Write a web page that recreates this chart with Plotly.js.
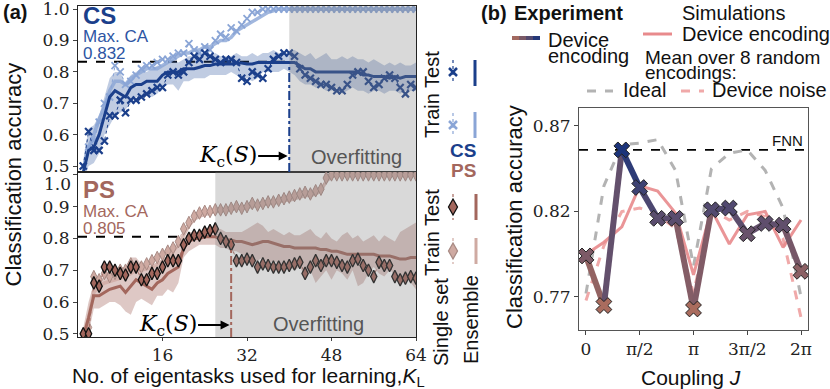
<!DOCTYPE html>
<html>
<head>
<meta charset="utf-8">
<script src="https://cdn.plot.ly/plotly-3.0.1.min.js"></script>
<style>html,body{margin:0;padding:0;background:#fff}</style>
</head>
<body>
<div id="chart" style="width:830px;height:389px"></div>
<script>
// ---- panel (a): number of eigentasks K_L
const kL = Array.from({length: 64}, (_, i) => i + 1)

const csTestSingle = [
  0.50,0.61,0.55,0.55,0.58,0.66,0.66,0.71,0.67,0.71,
  0.71,0.72,0.73,0.74,0.75,0.75,0.79,0.80,0.79,0.80,
  0.83,0.85,0.84,0.86,0.85,0.84,0.83,0.84,0.84,0.83,
  0.78,0.77,0.80,0.79,0.78,0.81,0.84,0.85,0.86,0.86,
  0.85,0.81,0.79,0.78,0.77,0.76,0.76,0.75,0.74,0.74,
  0.76,0.79,0.80,0.80,0.77,0.75,0.76,0.78,0.79,0.78,
  0.75,0.73,0.76,0.75]
const csTestMean = [
  0.48,0.55,0.56,0.60,0.66,0.72,0.74,0.73,0.72,0.75,
  0.76,0.76,0.77,0.77,0.77,0.79,0.80,0.80,0.80,0.81,
  0.81,0.81,0.815,0.82,0.82,0.825,0.825,0.825,0.825,0.828,
  0.828,0.825,0.825,0.83,0.83,0.832,0.832,0.832,0.832,0.832,
  0.83,0.82,0.81,0.81,0.80,0.80,0.80,0.80,0.80,0.80,
  0.80,0.80,0.80,0.79,0.79,0.785,0.785,0.785,0.78,0.785,
  0.78,0.785,0.785,0.785]
const csTestHi = [
  0.52,0.62,0.63,0.66,0.72,0.78,0.80,0.80,0.76,0.79,
  0.80,0.81,0.80,0.81,0.82,0.82,0.83,0.84,0.83,0.84,
  0.85,0.85,0.86,0.86,0.85,0.86,0.85,0.85,0.85,0.86,
  0.85,0.85,0.86,0.85,0.86,0.86,0.87,0.86,0.86,0.86,
  0.87,0.86,0.85,0.86,0.84,0.85,0.86,0.84,0.84,0.85,
  0.84,0.85,0.84,0.84,0.83,0.84,0.83,0.82,0.83,0.82,
  0.83,0.82,0.82,0.83]
const csTestLo = [
  0.45,0.50,0.51,0.54,0.60,0.63,0.66,0.67,0.68,0.70,
  0.72,0.72,0.73,0.72,0.73,0.75,0.76,0.76,0.74,0.77,
  0.77,0.78,0.78,0.78,0.79,0.79,0.79,0.79,0.80,0.79,
  0.78,0.78,0.77,0.78,0.80,0.80,0.80,0.80,0.81,0.80,
  0.79,0.77,0.76,0.76,0.75,0.75,0.74,0.74,0.75,0.73,
  0.74,0.75,0.74,0.74,0.73,0.74,0.74,0.73,0.74,0.74,
  0.73,0.74,0.74,0.74]
const csTrainSingle = [
  0.50,0.56,0.58,0.64,0.70,0.72,0.82,0.80,0.76,0.77,
  0.79,0.81,0.82,0.82,0.83,0.84,0.84,0.85,0.86,0.86,
  0.89,0.87,0.86,0.88,0.87,0.90,0.92,0.91,0.94,0.93,
  0.95,0.97,0.99,0.99,1.0,1.0,1.0,1.0,1.0,1.0,
  1.0,1.0,1.0,1.0,1.0,1.0,1.0,1.0,1.0,1.0,
  1.0,1.0,1.0,1.0,1.0,1.0,1.0,1.0,1.0,1.0,
  1.0,1.0,1.0,1.0]
const csTrainMean = [
  0.49,0.56,0.60,0.65,0.69,0.74,0.77,0.77,0.76,0.78,
  0.79,0.80,0.81,0.81,0.81,0.82,0.83,0.84,0.85,0.86,
  0.86,0.87,0.87,0.88,0.88,0.89,0.90,0.90,0.91,0.93,
  0.94,0.95,0.96,0.97,0.98,0.99,0.995,1.0,1.0,1.0,
  1.0,1.0,1.0,1.0,1.0,1.0,1.0,1.0,1.0,1.0,
  1.0,1.0,1.0,1.0,1.0,1.0,1.0,1.0,1.0,1.0,
  1.0,1.0,1.0,1.0]

const psTestSingle = [
  0.50,0.50,0.66,0.65,0.71,0.71,0.70,0.69,0.685,0.71,
  0.71,0.67,0.67,0.69,0.69,0.71,0.73,0.73,0.73,0.78,
  0.80,0.81,0.81,0.82,0.825,0.83,0.80,0.79,0.78,0.73,
  0.73,0.735,0.73,0.71,0.72,0.715,0.71,0.71,0.71,0.715,
  0.72,0.725,0.69,0.71,0.73,0.715,0.73,0.73,0.725,0.715,
  0.71,0.73,0.735,0.715,0.70,0.68,0.725,0.715,0.715,0.68,
  0.67,0.675,0.68,0.675]
const psTestMean = [
  0.49,0.55,0.62,0.62,0.63,0.64,0.645,0.65,0.63,0.65,
  0.67,0.66,0.65,0.64,0.66,0.67,0.69,0.70,0.71,0.77,
  0.79,0.80,0.80,0.805,0.805,0.805,0.80,0.795,0.795,0.79,
  0.79,0.785,0.78,0.785,0.79,0.79,0.785,0.78,0.775,0.775,
  0.77,0.77,0.77,0.77,0.77,0.765,0.765,0.76,0.76,0.755,
  0.75,0.75,0.75,0.75,0.75,0.75,0.745,0.745,0.745,0.74,
  0.735,0.735,0.74,0.74]
const psTestHi = [
  0.52,0.60,0.66,0.67,0.68,0.69,0.70,0.71,0.71,0.74,
  0.74,0.72,0.71,0.71,0.72,0.73,0.74,0.76,0.78,0.80,
  0.82,0.82,0.82,0.83,0.83,0.83,0.83,0.82,0.82,0.82,
  0.82,0.83,0.84,0.85,0.84,0.82,0.83,0.82,0.81,0.82,
  0.81,0.81,0.82,0.83,0.81,0.80,0.82,0.80,0.79,0.81,
  0.82,0.80,0.81,0.79,0.80,0.81,0.79,0.81,0.80,0.79,
  0.82,0.83,0.84,0.85]
const psTestLo = [
  0.47,0.50,0.58,0.58,0.59,0.60,0.60,0.59,0.57,0.56,
  0.60,0.61,0.60,0.59,0.62,0.62,0.64,0.63,0.66,0.74,
  0.76,0.77,0.78,0.78,0.78,0.78,0.77,0.77,0.76,0.76,
  0.75,0.74,0.73,0.73,0.74,0.72,0.73,0.72,0.70,0.71,
  0.70,0.71,0.68,0.70,0.66,0.68,0.70,0.67,0.70,0.69,
  0.67,0.70,0.65,0.66,0.69,0.71,0.69,0.68,0.70,0.69,
  0.66,0.68,0.66,0.64]
const psTrainSingle = [
  0.50,0.52,0.68,0.67,0.69,0.68,0.69,0.70,0.70,0.72,
  0.71,0.71,0.72,0.73,0.74,0.75,0.76,0.77,0.79,0.83,
  0.85,0.87,0.88,0.885,0.885,0.89,0.89,0.89,0.895,0.90,
  0.895,0.90,0.91,0.905,0.91,0.915,0.915,0.92,0.925,0.93,
  0.935,0.94,0.945,0.94,0.95,0.955,0.99,1.0,1.0,1.0,
  1.0,1.0,1.0,1.0,1.0,1.0,1.0,1.0,1.0,1.0,
  1.0,1.0,1.0,1.0]
const psTrainMean = [
  0.49,0.55,0.63,0.65,0.66,0.665,0.67,0.675,0.68,0.69,
  0.70,0.70,0.705,0.71,0.72,0.73,0.74,0.76,0.78,0.81,
  0.84,0.86,0.87,0.875,0.88,0.885,0.885,0.89,0.89,0.895,
  0.895,0.90,0.90,0.905,0.905,0.91,0.91,0.915,0.92,0.92,
  0.925,0.93,0.935,0.935,0.94,0.95,0.98,0.995,1.0,1.0,
  1.0,1.0,1.0,1.0,1.0,1.0,1.0,1.0,1.0,1.0,
  1.0,1.0,1.0,1.0]

const csMaxCA = 0.832, csKc = 40, csOverfitStart = 40
const psMaxCA = 0.805, psKc = 29, psOverfitStart = 26

// ---- panel (b): coupling J (in units of pi)
const jOverPi = [0, 1/6, 2/6, 3/6, 4/6, 5/6, 1, 7/6, 8/6, 9/6, 10/6, 11/6, 2]
const expAcc = [0.794, 0.765, 0.856, 0.834, 0.816, 0.816, 0.763, 0.821, 0.822, 0.807, 0.813, 0.812, 0.785]
const simDevice = [0.795, 0.802, 0.811, 0.835, 0.832, 0.819, 0.783, 0.821, 0.801, 0.818, 0.820, 0.799, 0.815]
const simNoise = [0.768, 0.800, 0.820, 0.822, 0.818, 0.810, 0.772, 0.821, 0.815, 0.820, 0.817, 0.804, 0.758]
const simIdeal = [0.772, 0.835, 0.859, 0.860, 0.862, 0.844, 0.788, 0.845, 0.854, 0.856, 0.844, 0.822, 0.770]
const fnnAcc = 0.856
const jTickText = ['0', 'π/2', 'π', '3π/2', '2π']

const W = 830, H = 389
const px = x => x / W
const py = y => 1 - y / H
const J = jOverPi.map(v => v * Math.PI)

const csDark = '#1b3f8b', csLight = '#8aa5d6'
const psDark = '#a3675d', psLight = '#cfaaa2'
const sans = 'Liberation Sans, Arial, sans-serif'
const serif = 'DejaVu Serif, serif'

let traces = []

function panelTraces(xa, ya, lo, hi, mean, trMean, trSingle, teSingle, dark, light, band, isDiamond) {
  traces.push({x: kL, y: lo, xaxis: xa, yaxis: ya, type: 'scatter', mode: 'lines', line: {width: 0, color: band}, hoverinfo: 'skip'})
  traces.push({x: kL, y: hi, xaxis: xa, yaxis: ya, type: 'scatter', mode: 'lines', line: {width: 0, color: band}, fill: 'tonexty', fillcolor: band, hoverinfo: 'skip'})
  traces.push({x: kL, y: trMean, xaxis: xa, yaxis: ya, type: 'scatter', mode: 'lines', line: {width: 3.5, color: light}, opacity: 0.8})
  traces.push({x: kL, y: trSingle, xaxis: xa, yaxis: ya, type: 'scatter', mode: 'lines+markers',
    line: {width: 1, color: light, dash: 'dot'},
    marker: isDiamond
      ? {symbol: 'diamond-tall', size: 9, color: light, line: {color: '#a88a84', width: 1}}
      : {symbol: 'x-thin', size: 7, color: light, line: {color: light, width: 1.8}}})
  traces.push({x: kL, y: mean, xaxis: xa, yaxis: ya, type: 'scatter', mode: 'lines', line: {width: 3, color: dark}})
  traces.push({x: kL, y: teSingle, xaxis: xa, yaxis: ya, type: 'scatter', mode: 'lines+markers',
    line: {width: 1, color: dark, dash: 'dot'},
    marker: isDiamond
      ? {symbol: 'diamond-tall', size: 9, color: dark, line: {color: '#111', width: 1.3}}
      : {symbol: 'x-thin', size: 7, color: dark, line: {color: dark, width: 2.2}}})
}

panelTraces('x', 'y', csTestLo, csTestHi, csTestMean, csTrainMean, csTrainSingle, csTestSingle,
  csDark, csLight, 'rgba(45,85,160,0.30)', false)
panelTraces('x2', 'y2', psTestLo, psTestHi, psTestMean, psTrainMean, psTrainSingle, psTestSingle,
  psDark, psLight, 'rgba(163,103,93,0.36)', true)

// panel (b) simulations
traces.push({x: J, y: simIdeal, xaxis: 'x3', yaxis: 'y3', type: 'scatter', mode: 'lines', line: {color: '#b3b3b3', width: 3, dash: 'dash'}})
traces.push({x: J, y: simNoise, xaxis: 'x3', yaxis: 'y3', type: 'scatter', mode: 'lines', line: {color: '#f0a9a9', width: 3, dash: 'dash'}})
traces.push({x: J, y: simDevice, xaxis: 'x3', yaxis: 'y3', type: 'scatter', mode: 'lines', line: {color: '#e88a8c', width: 3}, opacity: 0.9})

const brownRGB = [170, 108, 94], blueRGB = [28, 52, 122]
function accColor(v) {
  const t = Math.max(0, Math.min(1, (v - 0.765) / (0.856 - 0.765)))
  const c = brownRGB.map((b, i) => Math.round(b + (blueRGB[i] - b) * t))
  return `rgb(${c[0]},${c[1]},${c[2]})`
}
for (let i = 0; i < J.length - 1; i++) {
  traces.push({x: [J[i], J[i + 1]], y: [expAcc[i], expAcc[i + 1]], xaxis: 'x3', yaxis: 'y3', type: 'scatter',
    mode: 'lines', line: {color: accColor((expAcc[i] + expAcc[i + 1]) / 2), width: 6}, hoverinfo: 'skip'})
}
traces.push({x: J, y: expAcc, xaxis: 'x3', yaxis: 'y3', type: 'scatter', mode: 'markers',
  marker: {symbol: 'x', size: 14, color: expAcc.map(accColor), line: {color: '#222', width: 1}}})

function pline(x0, y0, x1, y1, color, width, dash) {
  return {type: 'line', xref: 'paper', yref: 'paper', x0: px(x0), y0: py(y0), x1: px(x1), y1: py(y1),
    line: {color, width, dash: dash || 'solid'}}
}
function pcross(cx, cy, r, color) {
  return [pline(cx - r, cy - r, cx + r, cy + r, color, 2.5), pline(cx - r, cy + r, cx + r, cy - r, color, 2.5)]
}
function pdiamond(cx, cy, w, h, fill, edge) {
  const p = (x, y) => `${px(x)},${py(y)}`
  return {type: 'path', xref: 'paper', yref: 'paper',
    path: `M${p(cx, cy - h)} L${p(cx + w, cy)} L${p(cx, cy + h)} L${p(cx - w, cy)} Z`,
    fillcolor: fill, line: {color: edge, width: 1.3}}
}

let shapes = [
  {type: 'line', xref: 'x', yref: 'y', x0: 0, x1: csKc, y0: csMaxCA, y1: csMaxCA,
    line: {color: '#000', width: 2, dash: 'dash'}, layer: 'below'},
  {type: 'line', xref: 'x2', yref: 'y2', x0: 0, x1: psOverfitStart, y0: psMaxCA, y1: psMaxCA,
    line: {color: '#000', width: 2, dash: 'dash'}, layer: 'below'},
  {type: 'line', xref: 'x3', yref: 'y3', x0: -0.065 * Math.PI, x1: 2.065 * Math.PI, y0: fnnAcc, y1: fnnAcc,
    line: {color: '#000', width: 1.8, dash: 'dash'}, layer: 'below'},
  {type: 'rect', xref: 'x', yref: 'y', x0: csOverfitStart, x1: 64, y0: 0.481, y1: 1.01,
    fillcolor: 'rgba(128,128,128,0.30)', line: {width: 0}, layer: 'above'},
  {type: 'rect', xref: 'x2', yref: 'y2', x0: psOverfitStart, x1: 64, y0: 0.49, y1: 1.009,
    fillcolor: 'rgba(128,128,128,0.30)', line: {width: 0}, layer: 'above'},
  {type: 'line', xref: 'x', yref: 'y', x0: csKc, x1: csKc, y0: 0.481, y1: csMaxCA,
    line: {color: csDark, width: 2, dash: 'dashdot'}},
  {type: 'line', xref: 'x2', yref: 'y2', x0: psKc, x1: psKc, y0: 0.49, y1: psTestMean[psKc - 1],
    line: {color: psDark, width: 2, dash: 'dashdot'}},
  // legend glyphs (a)
  pline(453, 60, 453, 84, csDark, 1.2, 'dot'), pline(453, 113, 453, 137, csLight, 1.2, 'dot'),
  pline(453, 194, 453, 220, psDark, 1.2, 'dot'), pline(453, 238, 453, 264, psLight, 1.2, 'dot'),
  ...pcross(453, 72, 4, csDark), ...pcross(453, 125, 4, csLight),
  pdiamond(453, 207, 4.5, 8, psDark, '#111'), pdiamond(453, 251, 4.5, 8, psLight, '#a88a84'),
  pline(475, 60, 475, 86, csDark, 3), pline(475, 112, 475, 138, csLight, 3),
  pline(476, 194, 476, 220, psDark, 3), pline(476, 238, 476, 264, psLight, 3),
  // legend glyphs (b)
  pline(512, 38, 519, 38, accColor(0.77), 4), pline(519, 38, 526, 38, accColor(0.795), 4),
  pline(526, 38, 533, 38, accColor(0.82), 4), pline(533, 38, 540, 38, accColor(0.85), 4),
  pline(643, 34, 672, 34, '#e88a8c', 3),
  pline(587, 91, 613, 91, '#b3b3b3', 3, 'dash'),
  pline(681, 91, 704, 91, '#f0a9a9', 3, 'dash'),
]

function txt(x, y, text, size, color, extra) {
  return Object.assign({xref: 'paper', yref: 'paper', x: px(x), y: py(y), text, showarrow: false,
    xanchor: 'center', yanchor: 'middle', font: {family: sans, size, color: color || '#111'}}, extra || {})
}

const kcText = '<i>K</i><sub>c</sub>(<i>S</i>)'
let annotations = [
  txt(15, 12, '<b>(a)</b>', 20),
  txt(81, 16, '<b>CS</b>', 24, csDark, {xanchor: 'left'}),
  txt(81, 37, 'Max. CA', 17, '#2d55a3', {xanchor: 'left'}),
  txt(81, 53, '0.832', 17, '#2d55a3', {xanchor: 'left'}),
  txt(81, 190, '<b>PS</b>', 24, psDark, {xanchor: 'left'}),
  txt(81, 212, 'Max. CA', 17, psDark, {xanchor: 'left'}),
  txt(81, 228, '0.805', 17, psDark, {xanchor: 'left'}),
  txt(356, 157, 'Overfitting', 20, '#555'),
  txt(318, 324, 'Overfitting', 20, '#555'),
  {xref: 'x', yref: 'paper', x: csKc - 0.3, y: py(156), text: kcText, showarrow: true,
    ax: -60, ay: 0, arrowhead: 2, arrowsize: 1, arrowwidth: 1.8, arrowcolor: '#000',
    font: {family: serif, size: 22, color: '#000'}},
  {xref: 'x2', yref: 'paper', x: psKc - 0.3, y: py(325), text: kcText, showarrow: true,
    ax: -62, ay: 0, arrowhead: 2, arrowsize: 1, arrowwidth: 1.8, arrowcolor: '#000',
    font: {family: serif, size: 22, color: '#000'}},
  // top label of the lower panel sits just under the upper panel's frame
  txt(73, 184, '1.0', 17, '#222', {xanchor: 'right', font: {family: serif, size: 17, color: '#222'}}),
  txt(12.5, 175, 'Classification accuracy', 22, '#111', {textangle: -90}),
  txt(248, 377, 'No. of eigentasks used for learning,<i>K</i><sub>L</sub>', 21),
  txt(432, 95, 'Train Test', 20, '#111', {textangle: -90}),
  txt(432, 233, 'Train Test', 20, '#111', {textangle: -90}),
  txt(463, 151, '<b>CS</b>', 19, csDark),
  txt(463, 170, '<b>PS</b>', 19, psDark),
  txt(441, 322, 'Single set', 20, '#111', {textangle: -90}),
  txt(471, 320, 'Ensemble', 20, '#111', {textangle: -90}),
  // panel (b)
  txt(494, 13, '<b>(b)</b>', 20),
  txt(512, 13, '<b>Experiment</b>', 20, '#111', {xanchor: 'left'}),
  txt(680, 13, 'Simulations', 20, '#111', {xanchor: 'left'}),
  txt(546, 40, 'Device', 20, '#111', {xanchor: 'left'}),
  txt(546, 56, 'encoding', 20, '#111', {xanchor: 'left'}),
  txt(680, 34, 'Device encoding', 20, '#111', {xanchor: 'left'}),
  txt(643, 57, 'Mean over 8 random', 19, '#111', {xanchor: 'left'}),
  txt(643, 72, 'encodings:', 19, '#111', {xanchor: 'left'}),
  txt(621, 90, 'Ideal', 20, '#111', {xanchor: 'left'}),
  txt(710, 90, 'Device noise', 20, '#111', {xanchor: 'left'}),
  txt(805, 140, 'FNN', 15, '#111', {xanchor: 'right'}),
  txt(515, 217, 'Classification accuracy', 22, '#111', {textangle: -90}),
  txt(691, 377, 'Coupling <i>J</i>', 21),
]

const tickFont = {family: serif, size: 17, color: '#222'}
const aTicks = [0.5, 0.6, 0.7, 0.8, 0.9, 1.0]

function frame(extra) {
  return Object.assign({showline: true, mirror: true, linecolor: '#222', linewidth: 1,
    zeroline: false, showgrid: false, tickfont: tickFont, ticklabeloverflow: 'allow'}, extra)
}

const layout = {
  width: W, height: H,
  margin: {l: 0, r: 0, t: 0, b: 0},
  paper_bgcolor: '#fff', plot_bgcolor: 'rgba(0,0,0,0)',
  showlegend: false,
  xaxis: frame({domain: [px(78), px(416)], range: [0, 64], anchor: 'y', showticklabels: false, ticks: ''}),
  yaxis: frame({domain: [py(172), py(6)], range: [0.481, 1.01], anchor: 'x',
    tickvals: aTicks, ticktext: aTicks.map(v => v.toFixed(1)), ticks: 'outside', ticklen: 4}),
  xaxis2: frame({domain: [px(78), px(416)], range: [0, 64], anchor: 'y2',
    tickvals: [16, 32, 48, 64], ticks: 'outside', ticklen: 3}),
  yaxis2: frame({domain: [py(337), py(172)], range: [0.49, 1.009], anchor: 'x2',
    tickvals: aTicks, ticktext: ['0.5', '0.6', '0.7', '0.8', '0.9', ' '], ticks: 'outside', ticklen: 4}),
  xaxis3: frame({domain: [px(579), px(808)], range: [-0.065 * Math.PI, 2.065 * Math.PI],
    anchor: 'y3', linecolor: '#555', tickvals: [0, 0.5, 1, 1.5, 2].map(v => v * Math.PI), ticktext: jTickText,
    ticks: 'outside', ticklen: 4}),
  yaxis3: frame({domain: [py(330), py(108)], range: [0.7507, 0.8805], anchor: 'x3',
    linecolor: '#555', tickvals: [0.77, 0.82, 0.87], ticktext: ['0.77', '0.82', '0.87'],
    ticks: 'outside', ticklen: 4}),
  shapes,
  annotations,
}

Plotly.newPlot('chart', traces, layout, {displayModeBar: false, staticPlot: true})
</script>
</body>
</html>
